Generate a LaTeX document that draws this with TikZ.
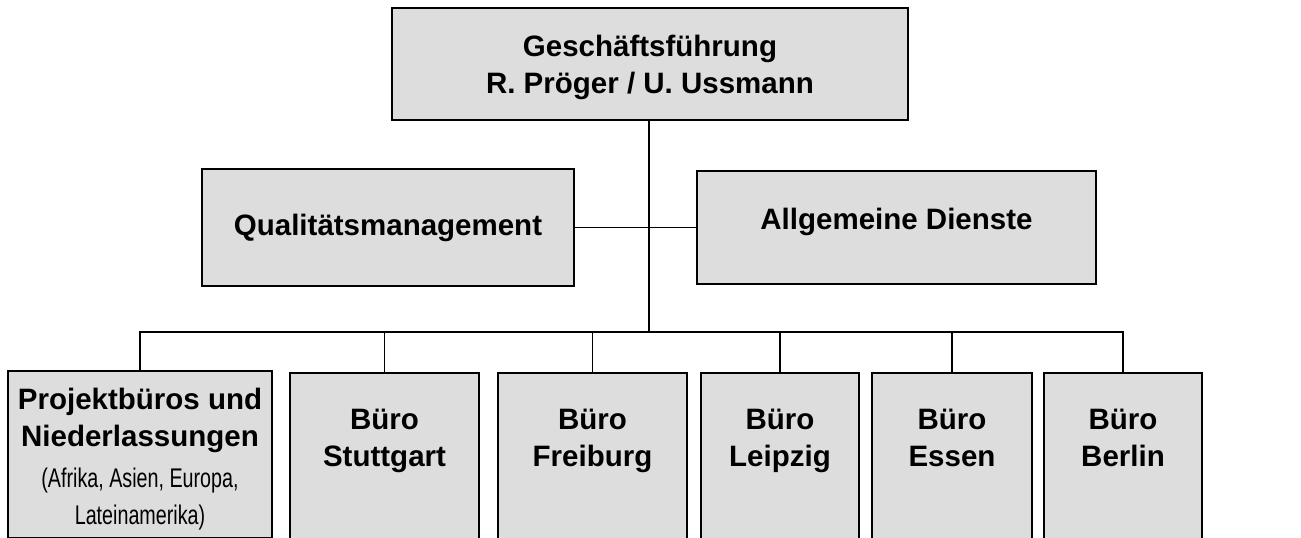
\documentclass[tikz,border=0pt]{standalone}
\usepackage{fontspec}
\setmainfont{Liberation Sans}
\newfontfamily\narrowfont[FakeStretch=0.73]{Liberation Sans}
\usetikzlibrary{positioning}
\definecolor{boxgray}{RGB}{221,221,221}
\tikzset{unit/.style = {draw, line width=2pt, fill=boxgray, inner sep=0pt,
    font=\bfseries\fontsize{29.5}{38}\selectfont, align=center}}
\tikzset{unittext/.style = {anchor=north, inner sep=0pt, align=center,
    font=\bfseries\fontsize{29.5}{37}\selectfont}}
\tikzset{link/.style = {line width=1.8pt}}

\begin{document}
\begin{tikzpicture}[x=1pt, y=-1pt]
    \useasboundingbox (0,0) rectangle (1301,538);

    \node[unit, minimum width=516, minimum height=112] (gf) at (650,64) {};
    \node[unittext, anchor=center, yshift=-3pt] (gftext) at (gf)
        {Geschäftsführung\\R. Pröger / U. Ussmann};
    \node[unit, minimum width=372, minimum height=117] (qm) at (388,227.5)
        {Qualitätsmanagement};
    \node[unit, minimum width=399, minimum height=113] (ad) at (896.5,227.5) {};
    \node[unittext, anchor=center, yshift=6pt] (adtext) at (ad) {Allgemeine Dienste};

    \node[unit, anchor=north, minimum width=264, minimum height=167,
        label={[unittext, yshift=-18pt]north:Projektbüros und\\Niederlassungen\\[4pt]
        {\narrowfont\mdseries\fontsize{27}{37}\selectfont (Afrika, Asien, Europa,}\\
        {\narrowfont\mdseries\fontsize{27}{37}\selectfont Lateinamerika)}}]
        (pb) at (140,370) {};
    \foreach \Name/\X/\W in {stuttgart/384.5/189, freiburg/592.5/189,
            leipzig/780/158, essen/952/160, berlin/1123/158}
        \node[unit, anchor=north, minimum width=\W, minimum height=190] (\Name) at (\X,372) {};
    \foreach \Name/\City in {stuttgart/Stuttgart, freiburg/Freiburg,
            leipzig/Leipzig, essen/Essen, berlin/Berlin}
        \node[unittext, below=37pt of \Name.north] (\Name text) {Büro\\\City};

    % connectors
    \coordinate (bus) at (649,332);
    \draw[link] (gf.south -| bus) -- (bus);
    \draw[link] (qm.east) -- (ad.west);
    \draw[link] (pb.north) -- (pb.north |- bus) -- (berlin.north |- bus) -- (berlin.north);
    \foreach \Name in {stuttgart, freiburg, leipzig, essen}
        \draw[link] (\Name.north |- bus) -- (\Name.north);
\end{tikzpicture}
\end{document}
